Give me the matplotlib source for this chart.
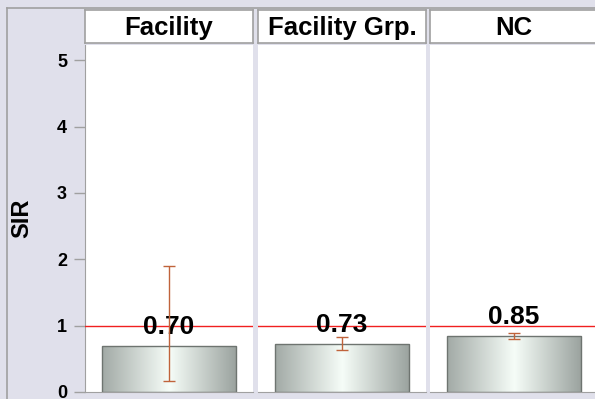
import matplotlib
matplotlib.use("Agg")
import matplotlib.pyplot as plt
import numpy as np
from matplotlib.colors import LinearSegmentedColormap
from matplotlib.patches import Rectangle
from matplotlib.lines import Line2D

plt.rcParams['font.family'] = ['Liberation Sans', 'DejaVu Sans']

# ---- data ----
categories = ['Facility', 'Facility Grp.', 'NC']
sir = [0.70, 0.73, 0.85]
ci_lower = [0.17, 0.63, 0.80]
ci_upper = [1.90, 0.83, 0.89]
bar_labels = ['0.70', '0.73', '0.85']
yticks = [0, 1, 2, 3, 4, 5]
ref_value = 1.0

# ---- style ----
W, H = 595, 399
BG = '#E0E0EB'
BORDER = '#A0A0A0'
ERR = '#C0633B'

fig = plt.figure(figsize=(W / 100, H / 100), dpi=100, facecolor=BG)

def fx(px):
    return px / W

def fy(py):
    return 1 - py / H

# outer frame lines (top and left)
fig.add_artist(Line2D([fx(7), 1.0], [fy(8), fy(8)], color=BORDER, lw=1.2))
fig.add_artist(Line2D([fx(7), fx(7)], [fy(8), 0.0], color=BORDER, lw=1.2))

panel_x = [85, 258, 430]
panel_w = 168
plot_top, plot_bot = 45, 392
head_top, head_bot = 10, 43
ymax = 5.23

cmap = LinearSegmentedColormap.from_list(
    'g', [(0.0, '#A2AAA6'), (0.5, '#F6FDF8'), (1.0, '#9AA29E')])
grad = np.linspace(0, 1, 256).reshape(1, -1)

for i, cat in enumerate(categories):
    x0 = panel_x[i]
    ax = fig.add_axes([fx(x0), fy(plot_bot), panel_w / W, (plot_bot - plot_top) / H])
    ax.set_facecolor('white')
    for s in ['top', 'right']:
        ax.spines[s].set_visible(False)
    ax.spines['bottom'].set_color(BORDER)
    ax.spines['left'].set_color(BORDER)
    if i > 0:
        ax.spines['left'].set_visible(False)

    bars = ax.bar([0], [sir[i]], width=0.8, facecolor='none',
                  edgecolor='#6E7470', linewidth=1.0, zorder=2.5)
    for rect in bars:
        bx, by, bw, bh = rect.get_x(), rect.get_y(), rect.get_width(), rect.get_height()
        im = ax.imshow(grad, extent=[bx, bx + bw, by, by + bh], aspect='auto',
                       cmap=cmap, zorder=2, interpolation='bilinear')
        im.set_clip_path(rect)

    ax.axhline(ref_value, color='#F02020', lw=1.0, zorder=2.8)
    ax.text(0, sir[i] + 0.18, bar_labels[i], ha='center', va='baseline',
            fontsize=19, fontweight='bold', color='black', zorder=3)
    ax.errorbar([0], [sir[i]],
                yerr=[[sir[i] - ci_lower[i]], [ci_upper[i] - sir[i]]],
                fmt='none', ecolor=ERR, elinewidth=1.0, capsize=4.5,
                capthick=1.0, zorder=4)

    ax.set_xlim(-0.5, 0.5)
    ax.set_ylim(0, ymax)
    ax.set_xticks([])
    if i == 0:
        ax.set_yticks(yticks)
        ax.set_yticklabels([str(t) for t in yticks], fontsize=13, fontweight='bold')
        ax.tick_params(axis='y', length=8, width=1.0, color=BORDER, pad=5)
    else:
        ax.set_yticks([])

    # header box
    hax = fig.add_axes([fx(x0), fy(head_bot), panel_w / W, (head_bot - head_top) / H])
    hax.set_facecolor('white')
    for s in hax.spines.values():
        s.set_color(BORDER)
        s.set_linewidth(1.2)
    hax.set_xticks([])
    hax.set_yticks([])
    hax.text(0.5, 0.45, cat, ha='center', va='center', fontsize=18.5,
             fontweight='bold', transform=hax.transAxes)

fig.text(fx(22), fy((plot_top + plot_bot) / 2), 'SIR', rotation=90,
         ha='center', va='center', fontsize=17, fontweight='bold')

fig.savefig('out.png', dpi=100, facecolor=BG)
